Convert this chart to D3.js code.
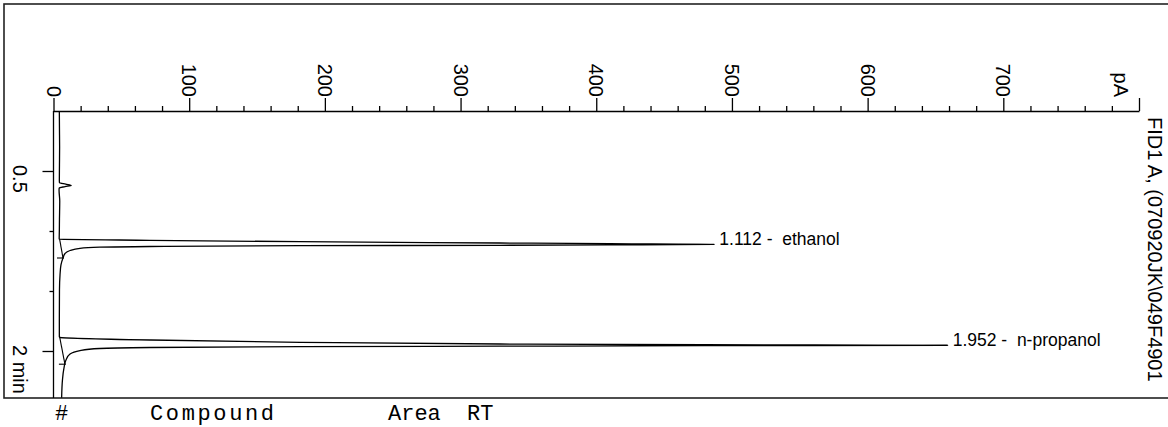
<!DOCTYPE html>
<html>
<head>
<meta charset="utf-8">
<script src="https://cdn.jsdelivr.net/npm/d3@7"></script>
<style>
  html, body { margin: 0; padding: 0; background: #fff; }
  svg { display: block; }
</style>
</head>
<body>
<svg id="chart" width="1168" height="427"></svg>
<script>
// FID signal, sampled along retention time (min) -> detector current (pA)
const timeMin = [
  0.000, 0.150, 0.300, 0.450, 0.580, 0.598, 0.610, 0.620, 0.630, 0.642,
  0.660, 0.750, 0.900, 1.000, 1.066, 1.068, 1.0775, 1.0892, 1.100, 1.106,
  1.112, 1.116, 1.119, 1.1225, 1.129, 1.135, 1.144, 1.1625, 1.1875, 1.225,
  1.283, 1.367, 1.490, 1.740, 1.882, 1.886, 1.9083, 1.9275, 1.9417, 1.948,
  1.952, 1.956, 1.960, 1.964, 1.971, 1.979, 1.996, 2.025, 2.075, 2.142,
  2.242, 2.390
];
const signalPA = [
  4.3, 4.4, 4.5, 4.4, 4.3, 4.4, 9.0, 13.0, 8.5, 4.2,
  4.1, 4.6, 4.4, 4.3, 4.2, 4.5, 71, 182, 329, 410,
  487, 410, 329, 182, 71, 34, 19.5, 12.2, 8.5, 7.0,
  5.5, 4.8, 4.4, 4.3, 4.3, 4.6, 71, 182, 329, 480,
  659, 480, 329, 182, 71, 34, 19.5, 12.2, 9.2, 7.7,
  6.6, 6.0
];

// Integrated peaks
const peakRT = [1.112, 1.952];
const peakHeight = [487, 659];
const peakName = ["ethanol", "n-propanol"];
const baseStartRT = [1.068, 1.886];
const baseStartPA = [4.5, 4.6];
const baseEndRT = [1.225, 2.110];
const baseEndPA = [7.0, 8.4];

// Axis ticks
const pAMajorTicks = [0, 100, 200, 300, 400, 500, 600, 700];
const pAMinorTicks = d3.range(0, 800, 20).filter(v => v % 100 !== 0);
const pAMax = 800;
const timeTicks = [0.5, 1, 1.5, 2];
const timeTickLabels = ["0.5", "", "", "2 min"];
const signalTitle = "FID1 A, (070920JK\\049F4901";
const tableHeads = ["#", "Compound", "Area", "RT"];
const tableHeadX = [55, 150, 388, 467];

const svg = d3.select("#chart");
const sans = "'Liberation Sans', Arial, sans-serif";
const mono = "'Liberation Mono', 'Courier New', monospace";

const frame = { left: 4, top: 4, right: 1180, bottom: 398 };
const x = d3.scaleLinear().domain([0, pAMax]).range([53.5, 1139]);
const y = d3.scaleLinear().domain([0, 2.39]).range([111, 397.8]);

svg.append("defs").append("clipPath").attr("id", "frameClip")
  .append("rect")
  .attr("x", frame.left).attr("y", frame.top)
  .attr("width", frame.right - frame.left).attr("height", frame.bottom - frame.top);

// outer frame
svg.append("rect")
  .attr("x", frame.left).attr("y", frame.top)
  .attr("width", frame.right - frame.left).attr("height", frame.bottom - frame.top)
  .attr("fill", "none").attr("stroke", "#222").attr("stroke-width", 1.6);

// signal axis (top)
const gx = svg.append("g").attr("transform", `translate(0,${y(0)})`);
gx.call(d3.axisTop(x).tickValues(pAMajorTicks.concat([pAMax])).tickSize(13).tickSizeOuter(0).tickFormat(""));
gx.append("g").call(d3.axisTop(x).tickValues(pAMinorTicks).tickSize(5).tickSizeOuter(0).tickFormat(""))
  .select(".domain").remove();
gx.selectAll("path, line").attr("stroke", "#000").attr("stroke-width", 1.3);

const pALabels = pAMajorTicks.map(String).concat(["pA"]);
const pALabelPos = pAMajorTicks.concat([pAMax - 13]);
svg.append("g").selectAll("text").data(pALabels).join("text")
  .attr("transform", (d, i) => `translate(${x(pALabelPos[i])},${y(0) - 14}) rotate(90)`)
  .attr("text-anchor", "end")
  .attr("dominant-baseline", "central")
  .attr("font-family", sans).attr("font-size", 20).attr("fill", "#000")
  .text(d => d);

// time axis (left)
const gy = svg.append("g").attr("transform", `translate(${x(0)},0)`);
gy.call(d3.axisLeft(y).tickValues(timeTicks).tickSize(4).tickSizeOuter(0).tickFormat(""));
gy.selectAll(".tick line").attr("x2", d => timeTickLabels[timeTicks.indexOf(d)] ? -11 : -4);
gy.select(".domain").attr("d", `M0,${y(0)}V${frame.bottom}`);
gy.selectAll("path, line").attr("stroke", "#000").attr("stroke-width", 1.3);

svg.append("g").attr("clip-path", "url(#frameClip)")
  .selectAll("text").data(timeTicks.filter((d, i) => timeTickLabels[i]))
  .join("text")
  .attr("transform", d => `translate(${x(0) - 41},${y(d) - 6}) rotate(90)`)
  .attr("text-anchor", "start")
  .attr("font-family", sans).attr("font-size", 20).attr("fill", "#000")
  .text(d => timeTickLabels[timeTicks.indexOf(d)]);

// chromatogram trace
const pts = timeMin.map((t, i) => ({ t, v: signalPA[i] }));
const plot = svg.append("g").attr("clip-path", "url(#frameClip)");
plot.append("path")
  .datum(pts)
  .attr("fill", "none").attr("stroke", "#000").attr("stroke-width", 1.3)
  .attr("stroke-linejoin", "round")
  .attr("d", d3.line().x(d => x(d.v)).y(d => y(d.t)).curve(d3.curveMonotoneY));

// integration baselines with end markers
peakRT.forEach((rt, i) => {
  plot.append("line")
    .attr("x1", x(baseStartPA[i])).attr("y1", y(baseStartRT[i]))
    .attr("x2", x(baseEndPA[i])).attr("y2", y(baseEndRT[i]))
    .attr("stroke", "#000").attr("stroke-width", 1.1);
  plot.append("line")
    .attr("x1", x(baseEndPA[i]) - 6).attr("y1", y(baseEndRT[i]))
    .attr("x2", x(baseEndPA[i]) + 1).attr("y2", y(baseEndRT[i]))
    .attr("stroke", "#000").attr("stroke-width", 1.1);
});

// peak annotations
svg.append("g").selectAll("text").data(peakRT).join("text")
  .attr("x", (d, i) => x(peakHeight[i]) + 5)
  .attr("y", d => y(d) + 1)
  .attr("font-family", sans).attr("font-size", 17.5).attr("fill", "#000")
  .attr("xml:space", "preserve")
  .text((d, i) => `${d.toFixed(3)} -  ${peakName[i]}`);

// signal description, running down the right edge
svg.append("text")
  .attr("transform", `translate(1148,117) rotate(90)`)
  .attr("font-family", sans).attr("font-size", 20).attr("fill", "#000")
  .text(signalTitle);

// start of the peak table beneath the plot
svg.append("g").selectAll("text").data(tableHeads).join("text")
  .attr("x", (d, i) => tableHeadX[i]).attr("y", 420)
  .attr("font-family", mono).attr("font-size", 22).attr("fill", "#000")
  .attr("textLength", d => d === "Compound" ? 124 : null)
  .attr("lengthAdjust", "spacing")
  .text(d => d);
</script>
</body>
</html>
